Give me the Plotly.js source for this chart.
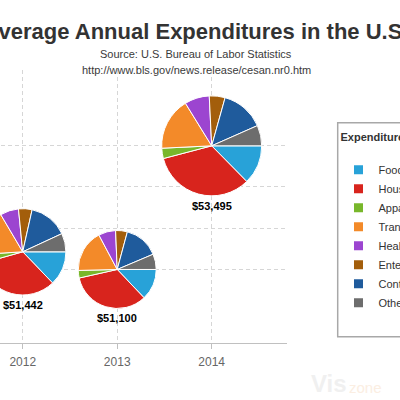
<!DOCTYPE html>
<html><head><meta charset="utf-8">
<script src="https://cdn.plot.ly/plotly-3.0.1.min.js"></script>
<style>
html,body{margin:0;padding:0;overflow:hidden;background:#fff;width:400px;height:400px}
#chart{position:absolute;left:-104px;top:0;width:600px;height:400px}
</style>
</head><body><div id="chart"></div>
<script>
// ---- data ----
const years = [2012, 2013, 2014];
const totals = [51442, 51100, 53495];
const totalLabels = ['$51,442', '$51,100', '$53,495'];
const categories = ['Food', 'Housing', 'Apparel', 'Transportation', 'Healthcare', 'Entertainment', 'Contributions', 'Other'];
const food = [6599, 6602, 6759];
const housing = [16887, 17148, 17798];
const apparel = [1736, 1604, 1786];
const transportation = [8998, 9004, 9073];
const healthcare = [3556, 3631, 4290];
const entertainment = [2605, 2482, 2728];
const contributions = [7504, 7362, 7514];
const other = [3557, 3267, 3547];
const xTicks = [2012, 2013, 2014];
const xTickLabels = ['2012', '2013', '2014'];
const yTicks = [51100, 51900, 52700, 53500];

// ---- style / geometry ----
const colors = ['#28a2d8', '#d8241d', '#78b72b', '#f38a29', '#9c45d0', '#a35e0b', '#1f5b9c', '#6d6d6d'];
const W = 600, H = 400, OFFSET = 104;
const M = {l: 14, r: 209, t: 70, b: 57};
const PW = W - M.l - M.r, PH = H - M.t - M.b;
const xRange = [2010.807, 2014.797];
const yRange = [49676, 54964];
const minD = 78, maxD = 100;
const FONT = 'Liberation Sans, Arial, Helvetica, sans-serif';

const series = [food, housing, apparel, transportation, healthcare, entertainment, contributions, other];
const zMin = Math.min(...totals), zMax = Math.max(...totals);
function radiusOf(z) {
  const pos = Math.sqrt((z - zMin) / (zMax - zMin));
  return (minD + pos * (maxD - minD)) / 2;
}
function fx(v) { return (v - xRange[0]) / (xRange[1] - xRange[0]); }
function fy(v) { return (v - yRange[0]) / (yRange[1] - yRange[0]); }
function visX(px) { return (px + OFFSET - M.l) / PW; }
function visY(py) { return (H - M.b - py) / PH; }

const traces = [];
years.forEach((yr, i) => {
  const r = radiusOf(totals[i]);
  const cx = fx(yr), cy = fy(totals[i]);
  traces.push({
    type: 'pie',
    labels: categories,
    values: series.map(s => s[i]),
    sort: false,
    direction: 'clockwise',
    rotation: 90,
    textinfo: 'none',
    textposition: 'none',
    hoverinfo: 'label+value+percent',
    showlegend: false,
    marker: {colors: colors, line: {color: '#ffffff', width: 1}},
    domain: {x: [cx - r / PW, cx + r / PW], y: [cy - r / PH, cy + r / PH]}
  });
});
categories.forEach((c, k) => {
  traces.push({
    type: 'scatter', mode: 'markers', x: [null], y: [null], name: c,
    marker: {symbol: 'square', size: 9, color: colors[k]},
    showlegend: true, hoverinfo: 'skip'
  });
});

const annotations = years.map((yr, i) => ({
  x: yr, y: totals[i], xref: 'x', yref: 'y',
  yshift: -(radiusOf(totals[i]) + 10),
  text: '<b>' + totalLabels[i] + '</b>', showarrow: false,
  font: {family: FONT, size: 11, color: '#000'},
  xanchor: 'center', yanchor: 'middle'
}));
annotations.push({
  xref: 'paper', yref: 'paper', x: visX(196), y: visY(53.5),
  text: 'Source: U.S. Bureau of Labor Statistics', showarrow: false,
  font: {family: FONT, size: 11, color: '#3a3a3a'},
  xanchor: 'center', yanchor: 'middle'
});
annotations.push({
  xref: 'paper', yref: 'paper', x: visX(196), y: visY(69.5),
  text: 'http://www.bls.gov/news.release/cesan.nr0.htm', showarrow: false,
  font: {family: FONT, size: 11, color: '#3a3a3a'},
  xanchor: 'center', yanchor: 'middle'
});
annotations.push({
  xref: 'paper', yref: 'paper', x: visX(329), y: visY(383),
  text: '<b>Vis</b>', showarrow: false,
  font: {family: FONT, size: 24, color: '#f0f0f0'},
  xanchor: 'center', yanchor: 'middle'
});
annotations.push({
  xref: 'paper', yref: 'paper', x: visX(366), y: visY(387),
  text: 'zone', showarrow: false,
  font: {family: FONT, size: 15, color: '#fbeee2'},
  xanchor: 'center', yanchor: 'middle'
});

// legend frame
const shapes = [{
  type: 'rect', xref: 'paper', yref: 'paper',
  x0: visX(337.7), x1: visX(480), y0: visY(336.7), y1: visY(122.7),
  line: {color: '#a8a8a8', width: 1.5}, fillcolor: 'rgba(0,0,0,0)', layer: 'above'
}];

const layout = {
  width: W, height: H,
  margin: M,
  paper_bgcolor: '#ffffff', plot_bgcolor: '#ffffff',
  font: {family: FONT, color: '#333'},
  title: {
    text: 'Average Annual Expenditures in the U.S.',
    font: {family: FONT, size: 22, color: '#333333', weight: 'bold'},
    xref: 'container', yref: 'container', x: (OFFSET + 196) / W, y: 1 - 31 / H,
    xanchor: 'center', yanchor: 'middle'
  },
  xaxis: {
    range: xRange, tickvals: xTicks, ticktext: xTickLabels,
    showgrid: true, gridcolor: '#d6d6d6', gridwidth: 1, griddash: '4px,3px',
    showline: true, linecolor: '#c0c0c0', linewidth: 1,
    ticks: 'outside', ticklen: 5, tickcolor: '#c0c0c0', ticklabelstandoff: 3,
    tickfont: {size: 12, color: '#666666'},
    zeroline: false, fixedrange: true
  },
  yaxis: {
    range: yRange, tickvals: yTicks, showticklabels: false,
    showgrid: true, gridcolor: '#d6d6d6', gridwidth: 1, griddash: '4px,3px',
    showline: false, zeroline: false, ticks: '', fixedrange: true
  },
  legend: {
    x: visX(338.5), y: visY(126.7), xanchor: 'left', yanchor: 'top',
    bgcolor: 'rgba(255,255,255,0)', borderwidth: 0,
    font: {size: 11, color: '#333333'},
    title: {text: '<b>Expenditures</b><br> ', font: {size: 11, color: '#333333'}},
    tracegroupgap: 0
  },
  shapes: shapes,
  annotations: annotations,
  showlegend: true
};

Plotly.newPlot('chart', traces, layout, {displayModeBar: false, staticPlot: true});
</script>
</body></html>
